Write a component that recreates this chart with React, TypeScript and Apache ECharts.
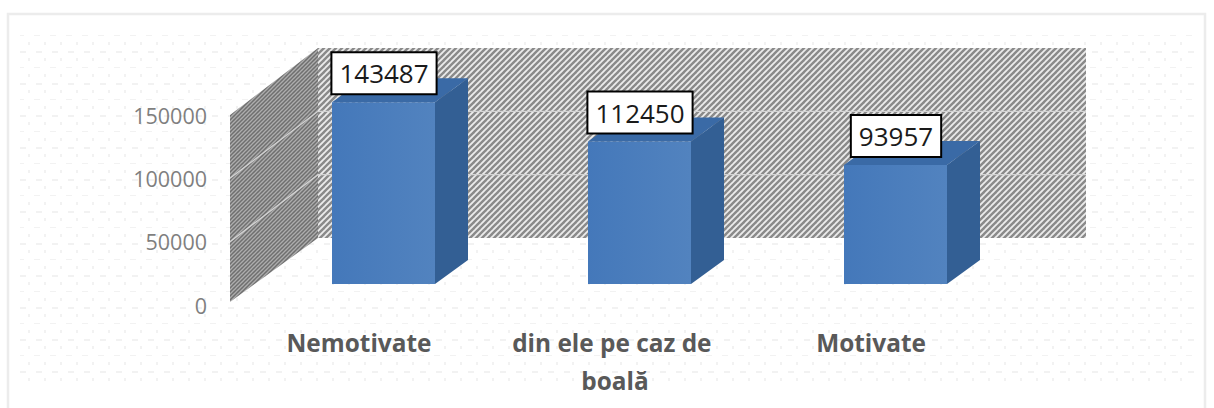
import React, { useEffect, useRef } from "react";
import * as echarts from "echarts";

const categories = ["Nemotivate", "din ele pe caz de boală", "Motivate"];
const values = [143487, 112450, 93957];
const yTicks = [0, 50000, 100000, 150000];
const FONT = '"Open Sans", "Noto Sans", sans-serif';

function hatch(size: number, bg: string, fg: string, lw: number) {
  const c = document.createElement("canvas");
  c.width = size;
  c.height = size;
  const g = c.getContext("2d")!;
  g.fillStyle = bg;
  g.fillRect(0, 0, size, size);
  g.strokeStyle = fg;
  g.lineWidth = lw;
  for (let i = -1; i <= 1; i++) {
    g.beginPath();
    g.moveTo(i * size - 1, size + 1);
    g.lineTo(i * size + size + 1, -1);
    g.stroke();
  }
  return c;
}

function dots() {
  const c = document.createElement("canvas");
  c.width = 32;
  c.height = 32;
  const g = c.getContext("2d")!;
  g.fillStyle = "#ffffff";
  g.fillRect(0, 0, 32, 32);
  g.fillStyle = "#f2f2f2";
  g.fillRect(2, 3, 6, 1);
  g.fillRect(18, 3, 6, 1);
  g.fillRect(12, 10, 2, 3);
  g.fillRect(28, 10, 2, 3);
  g.fillRect(4, 19, 6, 2);
  g.fillRect(20, 19, 6, 2);
  g.fillRect(12, 26, 2, 3);
  g.fillRect(28, 26, 2, 3);
  return c;
}

export default function App() {
  const ref = useRef<HTMLDivElement>(null);
  useEffect(() => {
    document.body.style.margin = "0";
    const chart = echarts.init(ref.current!, undefined, { renderer: "svg" });
    const backPattern = { image: hatch(6, "#ececec", "#8a8a8a", 2.4), repeat: "repeat" };
    const sidePattern = { image: hatch(4, "#6f6f6f", "#adadad", 1.3), repeat: "repeat" };
    const bgPattern = { image: dots(), repeat: "repeat" };
    const DX = 87, DY = -67;          // depth of the floor
    const BX = 24.5, BY = -21;        // bar front plane offset
    const BW = 103, TX = 33, TY = -24; // bar width and depth

    const option: any = {
      animation: false,
      backgroundColor: "#ffffff",
      grid: { left: 231, top: 115, width: 768, height: 190, containLabel: false },
      graphic: [
        { type: "rect", z: -10, shape: { x: 8, y: 14, width: 1197, height: 400 }, style: { fill: "#ffffff", stroke: "#ececec", lineWidth: 2.5 } },
        { type: "rect", z: -9, shape: { x: 20, y: 30, width: 1175, height: 355 }, style: { fill: bgPattern } },
      ],
      xAxis: {
        type: "category",
        data: categories,
        axisLine: { show: false },
        axisTick: { show: false },
        axisLabel: {
          interval: 0,
          width: 230,
          overflow: "break",
          margin: 18,
          lineHeight: 38,
          color: "#595959",
          fontFamily: FONT,
          fontWeight: "bold",
          fontSize: 24.4,
        },
      },
      yAxis: {
        type: "value",
        min: 0,
        max: 150000,
        interval: 50000,
        splitLine: { show: false },
        axisLine: { show: false },
        axisTick: { show: false },
        axisLabel: {
          margin: 24,
          color: "#7f7f7f",
          fontFamily: FONT,
          fontSize: 21.5,
          formatter: (v: number) => String(v),
        },
      },
      series: [
        {
          type: "custom",
          z: 1,
          silent: true,
          data: [0],
          encode: { x: 0, y: 0 },
          clip: false,
          renderItem: (params: any, api: any) => {
            const cs = params.coordSys;
            const yOf = (v: number) => api.coord([0, v])[1];
            const x0 = cs.x, x1 = cs.x + cs.width;
            const y0 = yOf(0), yT = yOf(150000);
            const children: any[] = [
              {
                type: "polygon",
                shape: { points: [[x0 + DX, yT + DY], [x1 + DX, yT + DY], [x1 + DX, y0 + DY], [x0 + DX, y0 + DY]] },
                style: { fill: backPattern },
              },
              {
                type: "polygon",
                shape: { points: [[x0 - 1, yT], [x0 + DX, yT + DY], [x0 + DX, y0 + DY], [x0 - 1, y0 - 3]] },
                style: { fill: sidePattern },
              },
            ];
            yTicks.slice(1, 3).forEach((t) => {
              const y = yOf(t);
              children.push({
                type: "polyline",
                shape: { points: [[x0 - 1, y], [x0 + DX, y + DY], [x1 + DX, y + DY]] },
                style: { fill: "none", stroke: "#d4d4d4", lineWidth: 1.2 },
              });
            });
            return { type: "group", children };
          },
        },
        {
          type: "custom",
          z: 2,
          silent: true,
          data: values,
          clip: false,
          encode: { y: 0 },
          renderItem: (params: any, api: any) => {
            const i = params.dataIndex;
            const v = api.value(0);
            const [cx, top] = api.coord([i, v]);
            const base = api.coord([i, 0])[1];
            const l = cx + BX - BW / 2, r = l + BW;
            const t = top + BY, b = base + BY;
            const grad = new echarts.graphic.LinearGradient(0, 0, 1, 0, [
              { offset: 0, color: "#4478ba" },
              { offset: 1, color: "#5283bf" },
            ]);
            return {
              type: "group",
              children: [
                { type: "polygon", shape: { points: [[r, t], [r + TX, t + TY], [r + TX, b + TY], [r, b]] }, style: { fill: "#335f94" } },
                { type: "polygon", shape: { points: [[l, t], [r, t], [r + TX, t + TY], [l + TX, t + TY]] }, style: { fill: "#3a6aa6" } },
                { type: "rect", shape: { x: l, y: t, width: BW, height: b - t }, style: { fill: grad } },
                {
                  type: "text",
                  x: cx + BX + 0.5,
                  y: t - 29,
                  style: {
                    text: String(values[i]),
                    fontFamily: FONT,
                    fontSize: 26,
                    fill: "#1a1a1a",
                    align: "center",
                    verticalAlign: "middle",
                    backgroundColor: "#ffffff",
                    borderColor: "#000000",
                    borderWidth: 2,
                    padding: [7, 7, 7, 7],
                  },
                },
              ],
            };
          },
        },
      ],
    };
    chart.setOption(option);
    return () => chart.dispose();
  }, []);
  return <div ref={ref} style={{ width: 1214, height: 408 }} />;
}
